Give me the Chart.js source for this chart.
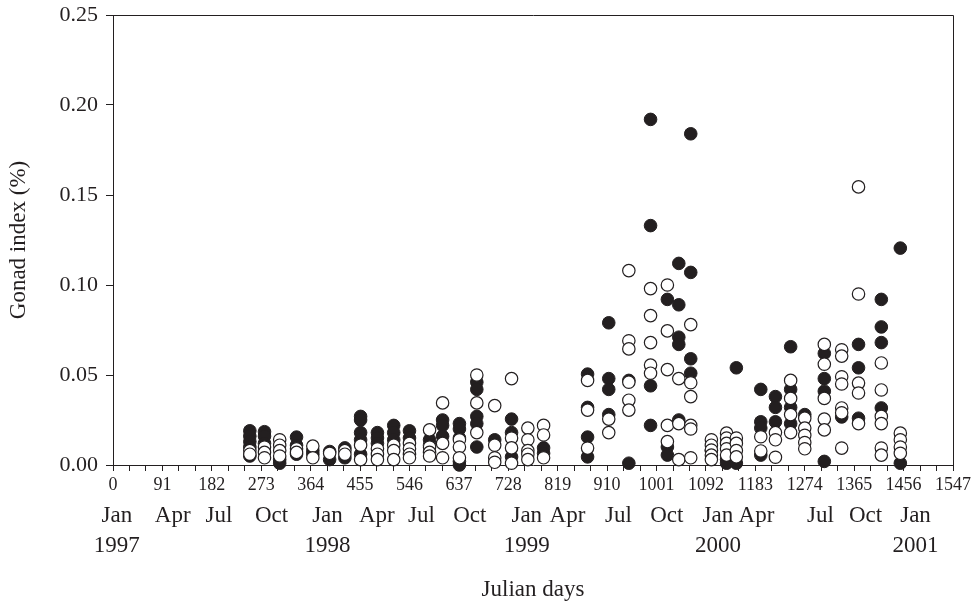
<!DOCTYPE html>
<html>
<head>
<meta charset="utf-8">
<script src="https://cdn.jsdelivr.net/npm/chart.js@4.4.1/dist/chart.umd.min.js"></script>
<style>
  html, body { margin: 0; padding: 0; background: #fff; }
</style>
</head>
<body>
<canvas id="gonad" width="974" height="601"></canvas>
<script>
// sampling days (Julian days from 1 Jan 1997), one entry per sampling date
const sampleDays = [252, 279, 307, 338, 368, 399, 427, 456, 487, 517, 546, 583, 607, 638, 670, 703,
  734, 764, 793, 874, 913, 950, 990, 1021, 1042, 1064, 1102, 1130, 1148, 1193, 1220, 1248, 1274,
  1310, 1342, 1373, 1415, 1450];

// gonad index (%) - filled circles, per sampling date
const filledGI = [
  [0.019, 0.016, 0.013, 0.010, 0.005],
  [0.0185, 0.016, 0.012],
  [0.003, 0.001],
  [0.0155, 0.011, 0.006],
  [0.008, 0.006],
  [0.0075, 0.003],
  [0.0095, 0.004],
  [0.027, 0.025, 0.018, 0.014, 0.006],
  [0.018, 0.015, 0.012],
  [0.022, 0.018, 0.014],
  [0.019, 0.015],
  [0.014, 0.011],
  [0.025, 0.022, 0.016],
  [0.023, 0.020, 0.015, 0.002, 0.0],
  [0.046, 0.042, 0.027, 0.023, 0.010],
  [0.014],
  [0.0255, 0.018, 0.0045],
  [],
  [0.0095, 0.0065],
  [0.0505, 0.032, 0.0155, 0.0045],
  [0.079, 0.048, 0.042, 0.028],
  [0.047, 0.001],
  [0.192, 0.133, 0.044, 0.022],
  [0.092, 0.010, 0.0055],
  [0.112, 0.089, 0.071, 0.067, 0.025],
  [0.184, 0.107, 0.059, 0.051],
  [0.008],
  [0.003, 0.001],
  [0.054, 0.001],
  [0.042, 0.024, 0.0205, 0.0055],
  [0.038, 0.032, 0.024],
  [0.0657, 0.042, 0.032, 0.023],
  [0.028],
  [0.062, 0.048, 0.041, 0.002],
  [0.0267],
  [0.067, 0.054, 0.026],
  [0.092, 0.0767, 0.068, 0.0317],
  [0.1205, 0.001]
];

// gonad index (%) - open circles, per sampling date
const openGI = [
  [0.008, 0.006],
  [0.010, 0.007, 0.004],
  [0.014, 0.011, 0.008, 0.005],
  [0.009, 0.007],
  [0.0105, 0.004],
  [0.0065],
  [0.008, 0.006],
  [0.011, 0.003],
  [0.009, 0.006, 0.003],
  [0.011, 0.008, 0.003],
  [0.012, 0.009, 0.006, 0.004],
  [0.0195, 0.010, 0.007, 0.005],
  [0.0345, 0.012, 0.004],
  [0.014, 0.010, 0.004],
  [0.050, 0.0345, 0.018],
  [0.033, 0.011, 0.004, 0.0015],
  [0.048, 0.015, 0.0095, 0.001],
  [0.0205, 0.014, 0.008, 0.006, 0.003],
  [0.022, 0.0167, 0.004],
  [0.047, 0.0305, 0.0094],
  [0.0255, 0.018],
  [0.108, 0.069, 0.0645, 0.046, 0.036, 0.0305],
  [0.098, 0.083, 0.068, 0.0555, 0.051],
  [0.100, 0.0745, 0.053, 0.022, 0.013],
  [0.048, 0.023, 0.003],
  [0.078, 0.0457, 0.038, 0.022, 0.020, 0.004],
  [0.014, 0.011, 0.0083, 0.0055, 0.003],
  [0.0177, 0.015, 0.012, 0.009, 0.0055],
  [0.015, 0.012, 0.008, 0.0045],
  [0.0157, 0.0078],
  [0.018, 0.014, 0.0043],
  [0.047, 0.037, 0.028, 0.018],
  [0.026, 0.0205, 0.0165, 0.0125, 0.009],
  [0.067, 0.056, 0.037, 0.0255, 0.0195],
  [0.064, 0.0605, 0.049, 0.045, 0.0317, 0.029, 0.0094],
  [0.1545, 0.095, 0.0455, 0.040, 0.023],
  [0.0567, 0.0417, 0.027, 0.023, 0.0094, 0.0055],
  [0.0177, 0.014, 0.010, 0.0065]
];

// x axis: labelled ticks every 91 days, unlabelled ticks in between
const dayTicks = [0, 91, 182, 273, 364, 455, 546, 637, 728, 819, 910, 1001, 1092, 1183, 1274, 1365, 1456, 1547];
const yTicks = [0, 0.05, 0.10, 0.15, 0.20, 0.25];

// calendar rows under the day axis
const monthLabels = ["Jan", "Apr", "Jul", "Oct", "Jan", "Apr", "Jul", "Oct", "Jan", "Apr", "Jul", "Oct",
  "Jan", "Apr", "Jul", "Oct", "Jan"];
const monthAt = [7, 110, 195, 292, 395, 486, 568, 657, 762, 837, 931, 1020, 1114, 1185, 1303, 1386, 1478];
const yearLabels = ["1997", "1998", "1999", "2000", "2001"];
const yearAt = [7, 395, 762, 1114, 1478];

const ink = "#231f20";
const serif = "'Liberation Serif', 'DejaVu Serif', serif";

const toPoints = (groups) =>
  groups.flatMap((vals, i) => vals.map((v) => ({ x: sampleDays[i], y: v })));

// top/right frame + month and year rows
const frameAndDates = {
  id: "frameAndDates",
  afterDraw(chart) {
    const { ctx, chartArea: a } = chart;
    const xs = chart.scales.x;
    ctx.save();
    ctx.strokeStyle = ink;
    ctx.lineWidth = 1;
    ctx.beginPath();
    ctx.moveTo(Math.round(a.left) + 0.5, Math.round(a.top) + 0.5);
    ctx.lineTo(Math.round(a.right) + 0.5, Math.round(a.top) + 0.5);
    ctx.lineTo(Math.round(a.right) + 0.5, Math.round(a.bottom) + 0.5);
    ctx.stroke();

    ctx.fillStyle = ink;
    ctx.font = "23px " + serif;
    ctx.textAlign = "center";
    ctx.textBaseline = "middle";
    monthLabels.forEach((m, i) => ctx.fillText(m, xs.getPixelForValue(monthAt[i]), a.bottom + 51));
    yearLabels.forEach((y, i) => ctx.fillText(y, xs.getPixelForValue(yearAt[i]), a.bottom + 81));
    ctx.restore();
  }
};

new Chart(document.getElementById("gonad"), {
  type: "scatter",
  data: {
    datasets: [
      {
        label: "open",
        data: toPoints(openGI),
        order: 0,
        pointRadius: 6.2,
        pointBorderWidth: 1.2,
        backgroundColor: "#ffffff",
        borderColor: ink,
        clip: false
      },
      {
        label: "filled",
        data: toPoints(filledGI),
        order: 1,
        pointRadius: 6.3,
        pointBorderWidth: 1,
        backgroundColor: ink,
        borderColor: ink,
        clip: false
      }
    ]
  },
  options: {
    responsive: false,
    animation: false,
    devicePixelRatio: 1,
    layout: { padding: { top: 15, right: 21, left: 0, bottom: 0 } },
    plugins: {
      legend: { display: false },
      tooltip: { enabled: false }
    },
    scales: {
      x: {
        type: "linear",
        min: 0,
        max: 1547,
        afterFit(scale) { scale.height = 136; },
        afterBuildTicks(scale) {
          const t = [];
          for (let i = 0; i < dayTicks.length; i++) {
            t.push({ value: dayTicks[i] });
            if (i < dayTicks.length - 1) {
              const step = (dayTicks[i + 1] - dayTicks[i]) / 3;
              t.push({ value: dayTicks[i] + step, minor: true });
              t.push({ value: dayTicks[i] + 2 * step, minor: true });
            }
          }
          scale.ticks = t;
        },
        ticks: {
          autoSkip: false,
          maxRotation: 0,
          padding: 3,
          color: ink,
          font: { family: serif, size: 18 },
          callback(value) {
            return dayTicks.includes(value) ? String(value) : "";
          }
        },
        grid: { drawOnChartArea: false, drawTicks: true, tickLength: 6, color: ink },
        border: { display: true, color: ink, width: 1 },
        title: {
          display: true,
          text: "Julian days",
          color: ink,
          font: { family: serif, size: 23, lineHeight: 1 },
          padding: { top: 0, bottom: 0 }
        }
      },
      y: {
        min: 0,
        max: 0.25,
        afterFit(scale) {
          scale.width = 113;
          scale.paddingTop = 0;
          scale.paddingBottom = 0;
        },
        afterBuildTicks(scale) {
          scale.ticks = yTicks.map((v) => ({ value: v }));
        },
        ticks: {
          padding: 8,
          color: ink,
          font: { family: serif, size: 22 },
          callback(value) { return value.toFixed(2); }
        },
        grid: { drawOnChartArea: false, drawTicks: true, tickLength: 7, color: ink },
        border: { display: true, color: ink, width: 1 },
        title: {
          display: true,
          text: "Gonad index (%)",
          color: ink,
          font: { family: serif, size: 23, lineHeight: 1.2 },
          padding: { top: 5, bottom: 0 }
        }
      }
    }
  },
  plugins: [frameAndDates]
});
</script>
</body>
</html>
